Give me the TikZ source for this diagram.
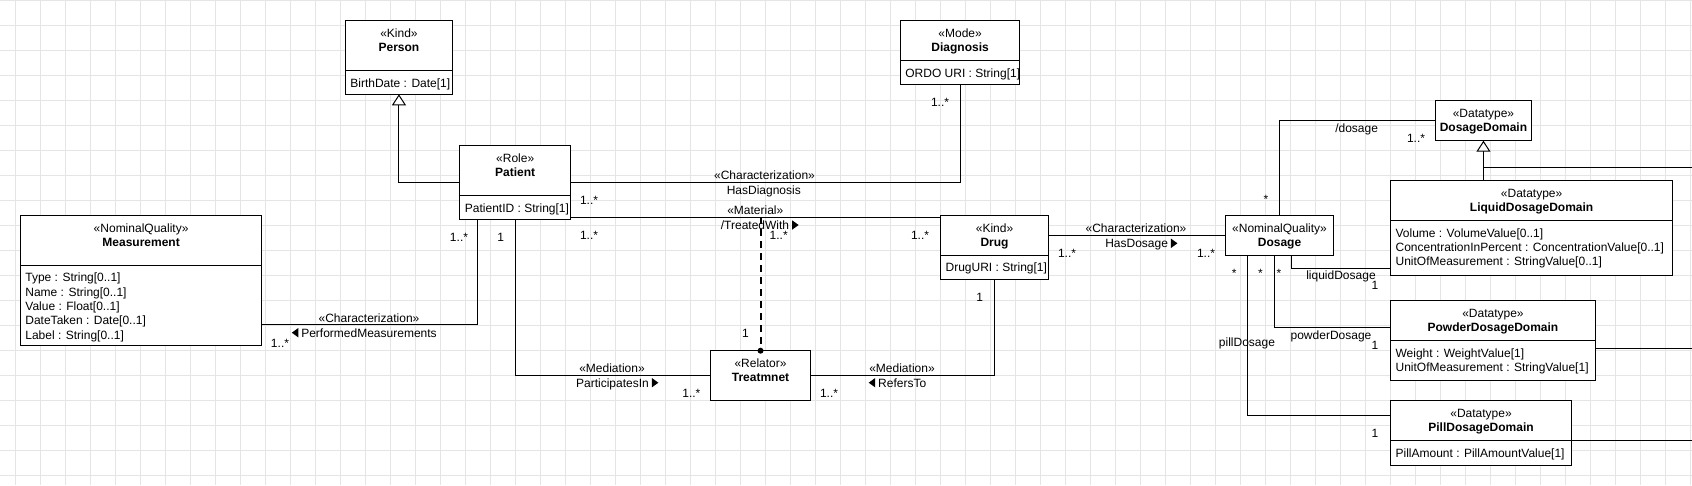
\documentclass[tikz,border=0pt]{standalone}
\usepackage{fontspec}
\setmainfont{Liberation Sans}
\usetikzlibrary{arrows.meta,calc}
\definecolor{gridc}{RGB}{229,229,229}
\tikzset{
  txt/.style={inner sep=0pt, outer sep=0pt, anchor=base, font=\fontsize{12}{14}\selectfont},
  ttl/.style={txt, font=\fontsize{12}{14}\selectfont\bfseries},
  classbox/.style={draw=black, fill=white, line width=1pt, inner sep=0pt, outer sep=0pt},
  conn/.style={draw=black, line width=1pt},
  gen/.style={conn, -{Triangle[length=11pt,width=14pt,fill=white,line width=1pt]}},
  dashline/.style={draw=black, line width=2pt, dash pattern=on 7pt off 5pt},
  gridline/.style={draw=gridc, line width=1pt},
}
% class box with attribute compartment
\newcommand{\clsbox}[9]{%
  \pgfmathsetmacro\bw{#4-#2}%
  \pgfmathsetmacro\bh{#6-#3}%
  \pgfmathsetmacro\cx{(#2+#4)/2}%
  \node[classbox, minimum width=\bw pt, minimum height=\bh pt, anchor=north west] (#1) at (#2,#3) {};
  \draw[conn] (#2,#5) -- (#4,#5);
  \node[txt] (#1-st) at (\cx,{#3+17}) {«#7»};
  \node[ttl] (#1-ti) at (\cx,{#3+31}) {#8};
  \foreach \a [count=\i] in {#9} {\node[txt, anchor=base west] (#1-a\i) at ({#2+5},{#5+16.6+(\i-1)*14.3}) {\a};}
}
% class box without compartment
\newcommand{\clssimple}[7]{%
  \pgfmathsetmacro\bw{#4-#2}%
  \pgfmathsetmacro\bh{#5-#3}%
  \pgfmathsetmacro\cx{(#2+#4)/2}%
  \node[classbox, minimum width=\bw pt, minimum height=\bh pt, anchor=north west] (#1) at (#2,#3) {};
  \node[txt] (#1-st) at (\cx,{#3+17}) {«#6»};
  \node[ttl] (#1-ti) at (\cx,{#3+31}) {#7};
}
\newcommand{\lab}[4]{\node[txt] (#1) at (#2,#3) {#4};}
\newcommand{\trir}[1]{\fill ($(#1.base east)+(3,-9)$) -- ++(6.5,4.7) -- ++(-6.5,4.7) -- cycle;}
\newcommand{\tril}[1]{\fill ($(#1.base west)+(-3,-9)$) -- ++(-6.5,4.7) -- ++(6.5,4.7) -- cycle;}

\begin{document}
\begin{tikzpicture}[x=1pt,y=-1pt]
\useasboundingbox (0,0) rectangle (1692,485);
\fill[white] (0,0) rectangle (1692,485);
\begin{scope}
\clip (0,0) rectangle (1692,485);
\foreach \x in {15,40,...,1690} \draw[gridline] (\x,0) -- (\x,485);
\foreach \y in {0,25,...,475} \draw[gridline] (0,\y) -- (1692,\y);
\end{scope}

% helper coordinates (y levels of connectors)
\coordinate (matY) at (0,217.3);
\coordinate (pmY) at (0,324.3);
\coordinate (ldY) at (0,268.3);
\coordinate (pwY) at (0,327.3);
\coordinate (plY) at (0,415.3);
\coordinate (edge1) at (1692,167.3);
\coordinate (edge2) at (1692,348.3);
\coordinate (edge3) at (1692,440.3);

% classes
\clsbox{person}{345.4}{20.7}{452.5}{70.7}{94.3}{Kind}{Person}{{BirthDate : Date[1]}}
\clsbox{diagnosis}{900.4}{20.7}{1019.8}{60.7}{84.3}{Mode}{Diagnosis}{{ORDO URI : String[1]}}
\clsbox{patient}{459.9}{145.7}{570.5}{195.7}{219}{Role}{Patient}{{PatientID : String[1]}}
\clsbox{measurement}{20.4}{215.3}{261.8}{265.3}{345.3}{NominalQuality}{Measurement}{{Type : String[0..1]},{Name : String[0..1]},{Value : Float[0..1]},{DateTaken : Date[0..1]},{Label : String[0..1]}}
\clsbox{drug}{940.6}{215.7}{1048.5}{255.3}{279.3}{Kind}{Drug}{{DrugURI : String[1]}}
\clssimple{treatmnet}{710.6}{350.7}{810.5}{400.3}{Relator}{Treatmnet}
\clssimple{dosage}{1225.5}{215.7}{1333.6}{255}{NominalQuality}{Dosage}
\clssimple{dosagedomain}{1435.6}{100.7}{1531.3}{140.7}{Datatype}{DosageDomain}
\clsbox{liquid}{1390.6}{180.3}{1672.6}{220.7}{275}{Datatype}{LiquidDosageDomain}{{Volume : VolumeValue[0..1]},{ConcentrationInPercent : ConcentrationValue[0..1]},{UnitOfMeasurement : StringValue[0..1]}}
\clsbox{powder}{1390.6}{300.7}{1595.3}{340.7}{380}{Datatype}{PowderDosageDomain}{{Weight : WeightValue[1]},{UnitOfMeasurement : StringValue[1]}}
\clsbox{pill}{1390.6}{400.7}{1571.5}{440.7}{465}{Datatype}{PillDosageDomain}{{PillAmount : PillAmountValue[1]}}

% generalizations
\draw[gen] (patient.west) -| (person.south);
\draw[gen] (dosagedomain.south |- liquid.north) -- (dosagedomain.south);
\draw[conn] (edge1) -- (dosagedomain.south |- edge1);
\draw[conn] (powder.east |- edge2) -- (edge2);
\draw[conn] (pill.east |- edge3) -- (edge3);

% associations
\draw[conn] (patient.east) -| (diagnosis.south);
\draw[conn] (patient.east |- matY) -- (drug.west |- matY);
\draw[dashline] (treatmnet.north |- matY) -- (treatmnet.north);
\fill (treatmnet.north) circle (3);
\draw[conn] (patient.south) |- (treatmnet.west);
\draw[conn] (drug.south) |- (treatmnet.east);
\draw[conn] ([xshift=17.4pt]patient.south west) |- (measurement.east |- pmY);
\draw[conn] (drug.east |- dosage.west) -- (dosage.west);
\draw[conn] (dosage.north) |- (dosagedomain.west);
\draw[conn] ([xshift=11.8pt]dosage.south) |- (liquid.west |- ldY);
\draw[conn] ([xshift=-5.3pt]dosage.south) |- (powder.west |- pwY);
\draw[conn] ([xshift=-32pt]dosage.south) |- (pill.west |- plY);

% labels: HasDiagnosis
\lab{hd-st}{764.5}{179.3}{«Characterization»}
\lab{hd-n}{763.8}{194.3}{HasDiagnosis}
\lab{hd-m1}{589}{204.3}{1..*}
\lab{hd-m2}{940}{106}{1..*}
% TreatedWith
\lab{tw-st}{755.3}{214.8}{«Material»}
\lab{tw-n}{755}{229.3}{/TreatedWith}
\trir{tw-n}
\lab{tw-m1}{589}{239.3}{1..*}
\lab{tw-m2}{920}{239.3}{1..*}
\lab{tw-m3}{778.7}{239.3}{1..*}
\lab{tw-m4}{745.4}{337.6}{1}
% ParticipatesIn
\lab{pi-st}{612}{372}{«Mediation»}
\lab{pi-n}{612.5}{387}{ParticipatesIn}
\trir{pi-n}
\lab{pi-m1}{691.4}{397}{1..*}
\lab{pi-m2}{500.7}{241}{1}
% RefersTo
\lab{rt-st}{902}{372}{«Mediation»}
\lab{rt-n}{902.2}{387}{RefersTo}
\tril{rt-n}
\lab{rt-m1}{829}{397}{1..*}
\lab{rt-m2}{979.6}{301}{1}
% PerformedMeasurements
\lab{pm-st}{369}{322}{«Characterization»}
\lab{pm-n}{369}{337}{PerformedMeasurements}
\tril{pm-n}
\lab{pm-m1}{280}{347}{1..*}
\lab{pm-m2}{459}{241}{1..*}
% HasDosage
\lab{hs-st}{1136}{232}{«Characterization»}
\lab{hs-n}{1136.6}{247.6}{HasDosage}
\trir{hs-n}
\lab{hs-m1}{1067}{257}{1..*}
\lab{hs-m2}{1206}{257}{1..*}
% dosage
\lab{ds-n}{1356.6}{132}{/dosage}
\lab{ds-m1}{1416}{142.6}{1..*}
\lab{ds-m2}{1266}{203}{*}
% liquid / powder / pill
\lab{ld-n}{1341}{279.5}{liquidDosage}
\lab{ld-m1}{1375}{289.3}{1}
\lab{ld-m2}{1279}{277.7}{*}
\lab{pw-n}{1331}{339}{powderDosage}
\lab{pw-m1}{1375}{349.3}{1}
\lab{pw-m2}{1260.4}{277.7}{*}
\lab{pl-n}{1247}{346.5}{pillDosage}
\lab{pl-m1}{1375}{437}{1}
\lab{pl-m2}{1234.3}{277.7}{*}
\end{tikzpicture}
\end{document}
